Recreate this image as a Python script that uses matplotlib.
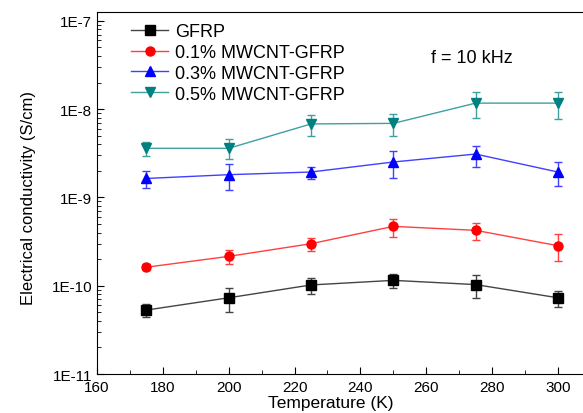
import matplotlib.pyplot as plt
from matplotlib.lines import Line2D
from matplotlib.ticker import FixedLocator, FuncFormatter, LogLocator, NullFormatter, MultipleLocator
import numpy as np

plt.rcParams['font.family'] = ['Liberation Sans', 'DejaVu Sans']

temps = [175, 200, 225, 250, 275, 300]

labels = ['GFRP', '0.1% MWCNT-GFRP', '0.3% MWCNT-GFRP', '0.5% MWCNT-GFRP']
colors = ['black', '#ff0000', '#0000ff', '#008080']
markers = ['s', 'o', '^', 'v']
line_colors = ['#444444', '#ff4040', '#4040ff', '#40a0a0']

gfrp = [5.3e-11, 7.3e-11, 1.02e-10, 1.15e-10, 1.03e-10, 7.3e-11]
gfrp_lo = [4.4e-11, 5.1e-11, 8.1e-11, 9.3e-11, 7.3e-11, 5.8e-11]
gfrp_hi = [6.2e-11, 9.5e-11, 1.21e-10, 1.36e-10, 1.32e-10, 8.6e-11]

mw01 = [1.62e-10, 2.15e-10, 2.99e-10, 4.7e-10, 4.24e-10, 2.84e-10]
mw01_lo = [1.5e-10, 1.75e-10, 2.5e-10, 3.6e-10, 3.3e-10, 1.89e-10]
mw01_hi = [1.78e-10, 2.56e-10, 3.5e-10, 5.7e-10, 5.1e-10, 3.9e-10]

mw03 = [1.64e-9, 1.81e-9, 1.94e-9, 2.52e-9, 3.1e-9, 1.94e-9]
mw03_lo = [1.29e-9, 1.21e-9, 1.62e-9, 1.66e-9, 2.23e-9, 1.35e-9]
mw03_hi = [1.99e-9, 2.37e-9, 2.19e-9, 3.35e-9, 3.85e-9, 2.5e-9]

mw05 = [3.6e-9, 3.6e-9, 6.8e-9, 6.9e-9, 1.17e-8, 1.17e-8]
mw05_lo = [2.92e-9, 2.72e-9, 5.0e-9, 5.0e-9, 7.9e-9, 7.7e-9]
mw05_hi = [4.3e-9, 4.58e-9, 8.6e-9, 8.8e-9, 1.57e-8, 1.57e-8]

series = [(gfrp, gfrp_lo, gfrp_hi), (mw01, mw01_lo, mw01_hi),
          (mw03, mw03_lo, mw03_hi), (mw05, mw05_lo, mw05_hi)]

fig = plt.figure(figsize=(5.83, 4.14), dpi=100)
ax = fig.add_axes([0.1664, 0.0942, 0.847, 0.8744])

handles = []
for (vals, lo, hi), lab, col, mk, lc in zip(series, labels, colors, markers, line_colors):
    vals = np.array(vals)
    err = [vals - np.array(lo), np.array(hi) - vals]
    ax.errorbar(temps, vals, yerr=err, color=lc, ecolor=lc, elinewidth=1,
                capsize=3, capthick=1, lw=1, marker=mk, ms=6.5,
                mfc=col, mec=col)
    # legend entries without the error bars
    handles.append(Line2D([], [], color=lc, lw=1, marker=mk, ms=6.5,
                          mfc=col, mec=col, label=lab))

ax.set_yscale('log')
ax.set_xlim(160, 310)
ax.set_ylim(1e-11, 1.26e-7)
ax.xaxis.set_major_locator(FixedLocator([160, 180, 200, 220, 240, 260, 280, 300]))
ax.xaxis.set_minor_locator(MultipleLocator(10))
ax.yaxis.set_major_locator(LogLocator(base=10, numticks=10))
ax.yaxis.set_minor_locator(LogLocator(base=10, subs=np.arange(2, 10), numticks=20))
ax.yaxis.set_minor_formatter(NullFormatter())
ax.yaxis.set_major_formatter(FuncFormatter(lambda v, p: '1E%d' % int(round(np.log10(v)))))
ax.tick_params(which='both', direction='in', labelsize=11, top=False, right=False)
ax.tick_params(which='major', length=5)
ax.tick_params(which='minor', length=3)
ax.tick_params(axis='x', pad=4)

ax.set_xlabel('Temperature (K)', fontsize=12.5)
ax.set_ylabel('Electrical conductivity (S/cm)', fontsize=12)
ax.xaxis.set_label_coords(0.474, -0.057)
ax.yaxis.set_label_coords(-0.123, 0.49)

ax.legend(handles=handles, loc='upper left', frameon=False, fontsize=13,
          handlelength=2.05, handletextpad=0.4, labelspacing=0.22,
          borderpad=0, borderaxespad=0, bbox_to_anchor=(0.069, 0.97))
ax.text(274, 3.8e-8, 'f = 10 kHz', fontsize=13, ha='center', va='center')

fig.savefig('out.png', dpi=100)
